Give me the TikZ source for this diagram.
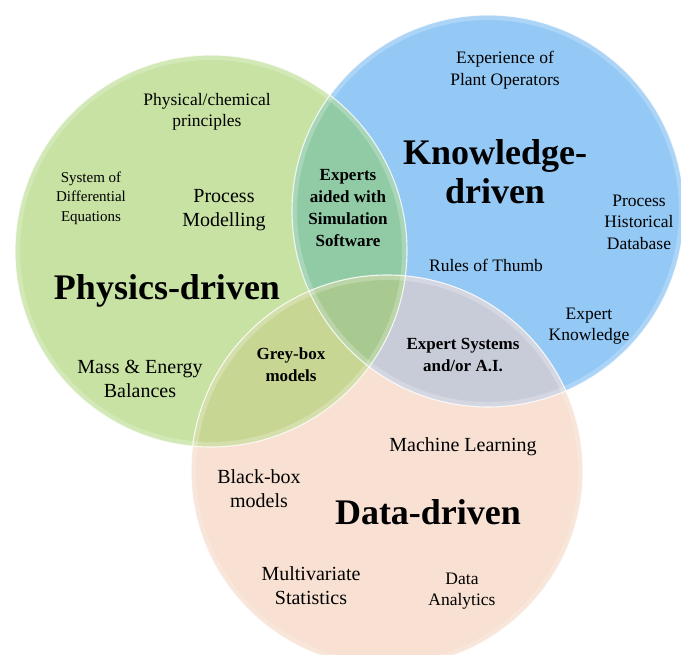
\documentclass[tikz,border=0pt]{standalone}
\usepackage{fontspec}
\setmainfont{Liberation Serif}
\definecolor{cG}{RGB}{199,226,163}
\definecolor{cB}{RGB}{148,200,245}
\definecolor{cO}{RGB}{248,224,210}
\definecolor{cGB}{RGB}{145,203,166}
\definecolor{cGO}{RGB}{200,214,148}
\definecolor{cBO}{RGB}{200,204,217}
\definecolor{cGBO}{RGB}{168,202,145}
\begin{document}
\begin{tikzpicture}[x=1pt,y=-1pt,
  lbl/.style={align=center, font=\fontsize{17.5}{21.5}\selectfont, inner sep=0pt},
  big/.style={align=center, font=\fontsize{20}{24}\selectfont, inner sep=0pt},
  small/.style={align=center, font=\fontsize{15}{19.5}\selectfont, inner sep=0pt},
  ov/.style={align=center, font=\bfseries\fontsize{17}{21.7}\selectfont, inner sep=0pt},
  ttl/.style={align=center, font=\bfseries\fontsize{36}{39}\selectfont, inner sep=0pt},
  glow/.style={draw=white, line width=5pt, opacity=0.22},
  rim/.style={draw=white, line width=1.1pt, opacity=0.8}]
\useasboundingbox (0,0) rectangle (681,655);
\def\R{196}
\coordinate (G) at (211,251);
\coordinate (B) at (488,211);
\coordinate (O) at (387,471);
% base fills
\fill[cG] (G) circle (\R);
\fill[cB] (B) circle (\R);
\fill[cO] (O) circle (\R);
% pairwise overlaps
\begin{scope}\clip (G) circle (\R); \fill[cGB] (B) circle (\R); \fill[cGO] (O) circle (\R); \end{scope}
\begin{scope}\clip (B) circle (\R); \fill[cBO] (O) circle (\R); \end{scope}
\begin{scope}\clip (G) circle (\R); \clip (B) circle (\R); \fill[cGBO] (O) circle (\R); \end{scope}
% rims
\draw[glow] (G) circle (\R-2.5);
\draw[glow] (B) circle (\R-2.5);
\draw[glow] (O) circle (\R-2.5);
\draw[rim] (G) circle (\R);
\draw[rim] (B) circle (\R);
\draw[rim] (O) circle (\R);
% titles
\node[ttl] (phys) at (167,291) {Physics-driven};
\node[ttl] (know) at (495,172) {Knowledge-\\driven};
\node[ttl] (data) at (428,512) {Data-driven};
% physics labels
\node[lbl] (pcp) at (207,112) {Physical/chemical\\principles};
\node[small] (sde) at (91,198) {System of\\Differential\\Equations};
\node[big] (pm) at (224,210) {Process\\Modelling};
\node[big] (meb) at (140,379) {Mass \& Energy\\Balances};
% knowledge labels
\node[lbl] (epo) at (505,70) {Experience of\\Plant Operators};
\node[lbl] (phd) at (639,222) {Process\\Historical\\Database};
\node[lbl] (rot) at (486,265) {Rules of Thumb};
\node[lbl] (ek) at (589,326) {Expert\\Knowledge};
% data labels
\node[big] (ml) at (463,447) {Machine Learning};
\node[big] (bbm) at (259,489) {Black-box\\models};
\node[big] (mvs) at (311,586) {Multivariate\\Statistics};
\node[lbl] (da) at (462,591) {Data\\Analytics};
% overlap labels
\node[ov] (eas) at (348,208) {Experts\\aided with\\Simulation\\Software};
\node[ov] (gbm) at (291,365) {Grey-box\\models};
\node[ov] (esa) at (463,355) {Expert Systems\\and/or A.I.};
\end{tikzpicture}
\end{document}
